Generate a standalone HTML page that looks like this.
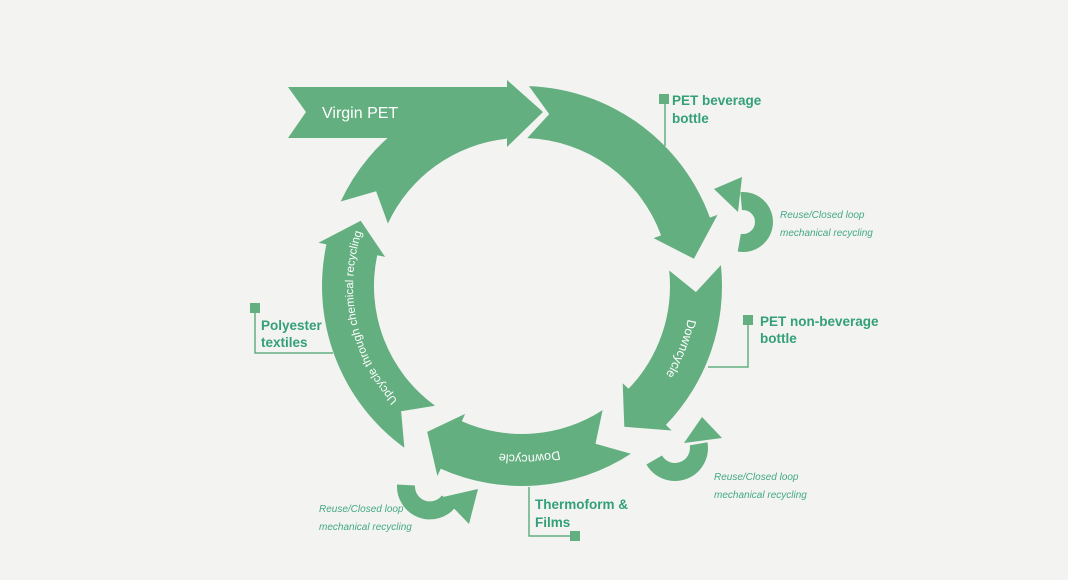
<!DOCTYPE html>
<html><head><meta charset="utf-8">
<style>
html,body{margin:0;padding:0;background:#f3f3f2;}
svg{display:block;}
.lbl{font-family:"Liberation Sans",sans-serif;font-weight:bold;font-size:13.5px;fill:#34a078;}
.it{font-family:"Liberation Sans",sans-serif;font-style:italic;font-size:10px;fill:#43a983;}
.ring{font-family:"Liberation Sans",sans-serif;font-size:12.5px;fill:#fff;}
</style></head>
<body>
<svg id="s" width="1068" height="580" viewBox="0 0 1068 580" xmlns="http://www.w3.org/2000/svg">
<rect width="1068" height="580" fill="#f3f3f2"/>
<g id="g" fill="#63af7f"></g>
<polygon fill="#63af7f" points="288,87 507,87 507,80 543,112 507,147 507,138 288,138 306,112"/>
<text x="322" y="118" font-family="Liberation Sans,sans-serif" font-size="16" fill="#fff">Virgin PET</text>
<g fill="none" stroke="#63af7f" stroke-width="18">
<path d="M 739.3 242.7 A 21 21 0 1 0 741.2 201.1"/>
<path d="M 654.2 460 A 24 24 0 0 0 698.6 443.8"/>
<path d="M 406 485 A 24 24 0 0 0 449 501"/>
</g>
<g fill="#63af7f">
<polygon points="742,177 714,189 738,212"/>
<polygon points="684,443 722,438 702,417"/>
<polygon points="443,497 469,524 478,489"/>
</g>
<defs>
<path id="pU" d="" /><path id="pR" d=""/><path id="pB" d=""/>
</defs>
<text class="ring" style="font-size:11.5px"><textPath href="#pU" startOffset="50%" text-anchor="middle">Upcycle through chemical recycling</textPath></text>
<text class="ring"><textPath href="#pR" startOffset="50%" text-anchor="middle">Downcycle</textPath></text>
<text class="ring"><textPath href="#pB" startOffset="50%" text-anchor="middle">Downcycle</textPath></text>
<g fill="#63af7f" stroke="#63af7f" stroke-width="1.5">
<rect x="659" y="94" width="10" height="10" stroke="none"/>
<path d="M665 104 V146" fill="none"/>
<rect x="743" y="315" width="10" height="10" stroke="none"/>
<path d="M748 325 V367 H708" fill="none"/>
<rect x="250" y="303" width="10" height="10" stroke="none"/>
<path d="M255 313 V353 H333" fill="none"/>
<rect x="570" y="531" width="10" height="10" stroke="none"/>
<path d="M529 487 V536 H570" fill="none"/>
</g>
<text class="lbl" x="672" y="105">PET beverage</text>
<text class="lbl" x="672" y="123">bottle</text>
<text class="lbl" x="760" y="326">PET non-beverage</text>
<text class="lbl" x="760" y="343">bottle</text>
<text class="lbl" x="261" y="330">Polyester</text>
<text class="lbl" x="261" y="347">textiles</text>
<text class="lbl" x="535" y="509">Thermoform &amp;</text>
<text class="lbl" x="535" y="527">Films</text>
<text class="it" x="780" y="218">Reuse/Closed loop</text>
<text class="it" x="780" y="236">mechanical recycling</text>
<text class="it" x="714" y="480">Reuse/Closed loop</text>
<text class="it" x="714" y="498">mechanical recycling</text>
<text class="it" x="319" y="512">Reuse/Closed loop</text>
<text class="it" x="319" y="530">mechanical recycling</text>
</svg>
<script>
(function(){
var cx=522,cy=286,r1=148,r2=200,rm=174;
function P(a,r){var t=a*Math.PI/180;return (cx+r*Math.cos(t)).toFixed(1)+' '+(cy+r*Math.sin(t)).toFixed(1);}
function seg(a0,a1,tip,notch){
 var lg=(a1-a0)>180?1:0;
 var d='M '+P(a0,r2)+' A '+r2+' '+r2+' 0 '+lg+' 1 '+P(a1,r2);
 if(tip!==null){d+=' L '+P(a1,208)+' L '+P(tip,rm)+' L '+P(a1,140);}
 d+=' L '+P(a1,r1)+' A '+r1+' '+r1+' 0 '+lg+' 0 '+P(a0,r1);
 if(notch)d+=' L '+P(a0+notch,rm);
 return d+' Z';
}
var segs=[[272,340,351,7],[354,404,414,8],[417,474,483,8],[486,552,562,8],[565,624,null,8]];
var g=document.getElementById('g');
segs.forEach(function(s){
 var p=document.createElementNS('http://www.w3.org/2000/svg','path');
 p.setAttribute('d',seg(s[0],s[1],s[2],s[3]));g.appendChild(p);
});
function arc(id,a0,a1,r){
 document.getElementById(id).setAttribute('d','M '+P(a0,r)+' A '+r+' '+r+' 0 0 1 '+P(a1,r));
}
arc('pU',123,213,169);
arc('pR',-5,48,169);
arc('pB',55,120,169);
})();
</script>
</body></html>
